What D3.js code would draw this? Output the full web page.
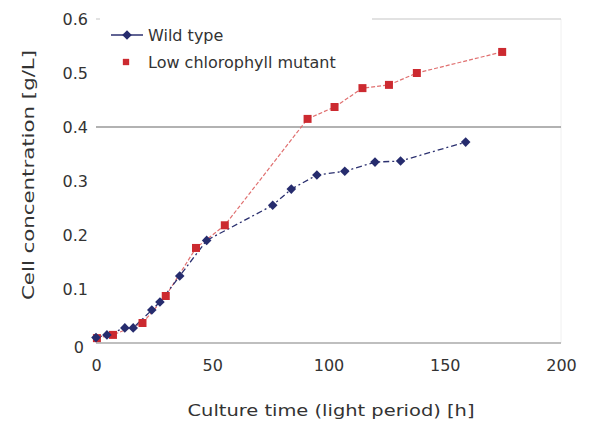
<!DOCTYPE html>
<html>
<head>
<meta charset="utf-8">
<script src="https://cdn.jsdelivr.net/npm/d3@7"></script>
<style>
  body { margin: 0; background: #fff; }
  text { font-family: "DejaVu Sans", sans-serif; fill: #333; }
</style>
</head>
<body>
<div id="chart"></div>
<script>
// culture time [h] and cell concentration [g/L]
var wildTime = [0, 4.7, 12.4, 16, 24, 27.5, 36, 47.6, 76, 84, 95, 107, 120, 131, 159];
var wildConc = [0.01, 0.015, 0.028, 0.028, 0.061, 0.076, 0.124, 0.19, 0.255, 0.285, 0.311, 0.318, 0.335, 0.337, 0.372];
var mutTime = [0.4, 7.3, 20, 30, 43, 55.4, 91, 102.6, 114.6, 126, 138, 174.7];
var mutConc = [0.009, 0.015, 0.037, 0.087, 0.176, 0.218, 0.415, 0.437, 0.472, 0.478, 0.5, 0.539];
var xTicks = [0, 50, 100, 150, 200];
var yTicks = [0, 0.1, 0.2, 0.3, 0.4, 0.5, 0.6];
var gridValues = [0.4, 0.6];

var width = 590, height = 421;
var svg = d3.select("#chart").append("svg")
  .attr("width", width)
  .attr("height", height);

var x = d3.scaleLinear().domain([0, 200]).range([96, 561]);
var y = d3.scaleLinear().domain([0, 0.6]).range([343, 19]);

// plot border on the right (very faint)
svg.append("line")
  .attr("x1", x(200)).attr("x2", x(200))
  .attr("y1", y(0.6)).attr("y2", y(0))
  .style("stroke", "#f0f0f0");

// gridlines
svg.selectAll(".grid")
  .data(gridValues)
  .enter().append("line")
  .attr("class", "grid")
  .attr("x1", x(0)).attr("x2", x(200))
  .attr("y1", function(d) { return y(d); })
  .attr("y2", function(d) { return y(d); })
  .style("stroke", function(d) { return d == 0.6 ? "#d8d8d8" : "#999"; })
  .style("stroke-width", 1.5);

// bottom axis line
svg.append("line")
  .attr("x1", x(0)).attr("x2", x(200))
  .attr("y1", y(0)).attr("y2", y(0))
  .style("stroke", "#aaa")
  .style("stroke-width", 1.5);

// tick labels
var xAxis = d3.axisBottom(x).tickValues(xTicks).tickSize(0).tickPadding(17);
var gx = svg.append("g").attr("transform", "translate(0," + y(0) + ")").call(xAxis);
gx.select(".domain").remove();
gx.selectAll("text").style("font-size", "16px").style("fill", "#333")
  .style("font-family", "DejaVu Sans, sans-serif");

var yAxis = d3.axisLeft(y).tickValues(yTicks).tickSize(0).tickPadding(8)
  .tickFormat(function(d) { return d == 0 ? "0" : d3.format(".1f")(d); });
var gy = svg.append("g").attr("transform", "translate(" + x(0) + ",0)").call(yAxis);
gy.select(".domain").remove();
gy.selectAll("text").style("font-size", "16px").style("fill", "#333")
  .style("font-family", "DejaVu Sans, sans-serif");
gy.selectAll(".tick").filter(function(d) { return d == 0; })
  .select("text").attr("dy", "0.62em").attr("x", -12);

// axis titles
svg.append("text")
  .attr("x", 331).attr("y", 416)
  .attr("text-anchor", "middle")
  .attr("textLength", 287)
  .attr("lengthAdjust", "spacingAndGlyphs")
  .style("font-size", "16px")
  .text("Culture time (light period) [h]");

svg.append("text")
  .attr("transform", "translate(34,175) rotate(-90)")
  .attr("text-anchor", "middle")
  .attr("textLength", 250)
  .attr("lengthAdjust", "spacingAndGlyphs")
  .style("font-size", "16px")
  .text("Cell concentration [g/L]");

// lines
var wild = wildTime.map(function(t, i) { return [t, wildConc[i]]; });
var mut = mutTime.map(function(t, i) { return [t, mutConc[i]]; });
var line = d3.line()
  .x(function(d) { return x(d[0]); })
  .y(function(d) { return y(d[1]); });

svg.append("path").datum(mut)
  .attr("d", line)
  .style("fill", "none")
  .style("stroke", "#e07070")
  .style("stroke-width", 1.2)
  .style("stroke-dasharray", "4,2");

svg.append("path").datum(wild)
  .attr("d", line)
  .style("fill", "none")
  .style("stroke", "#2c3170")
  .style("stroke-width", 1.3)
  .style("stroke-dasharray", "6,3,2,3");

// markers (diamond = square turned 45 degrees)
var diamond = d3.symbol().type(d3.symbolSquare).size(46);
var square = d3.symbol().type(d3.symbolSquare).size(64);

svg.selectAll(".mut")
  .data(mut)
  .enter().append("path")
  .attr("class", "mut")
  .attr("d", square)
  .attr("transform", function(d) { return "translate(" + x(d[0]) + "," + y(d[1]) + ")"; })
  .style("fill", "#cc2a30");

svg.selectAll(".wild")
  .data(wild)
  .enter().append("path")
  .attr("class", "wild")
  .attr("d", diamond)
  .attr("transform", function(d) { return "translate(" + x(d[0]) + "," + y(d[1]) + ") rotate(45)"; })
  .style("fill", "#262c6e");

// legend
var legend = svg.append("g");
legend.append("rect")
  .attr("x", 100).attr("y", 17).attr("width", 272).attr("height", 50)
  .style("fill", "#fff");
legend.append("line")
  .attr("x1", 111).attr("x2", 143).attr("y1", 35).attr("y2", 35)
  .style("stroke", "#2c3170").style("stroke-width", 1.5);
legend.append("path")
  .attr("d", diamond)
  .attr("transform", "translate(127,35) rotate(45)")
  .style("fill", "#262c6e");
legend.append("text")
  .attr("x", 148).attr("y", 41)
  .style("font-size", "16px")
  .text("Wild type");
legend.append("path")
  .attr("d", d3.symbol().type(d3.symbolSquare).size(40))
  .attr("transform", "translate(126,62)")
  .style("fill", "#cc2a30");
legend.append("text")
  .attr("x", 148).attr("y", 68)
  .style("font-size", "16px")
  .text("Low chlorophyll mutant");
</script>
</body>
</html>
